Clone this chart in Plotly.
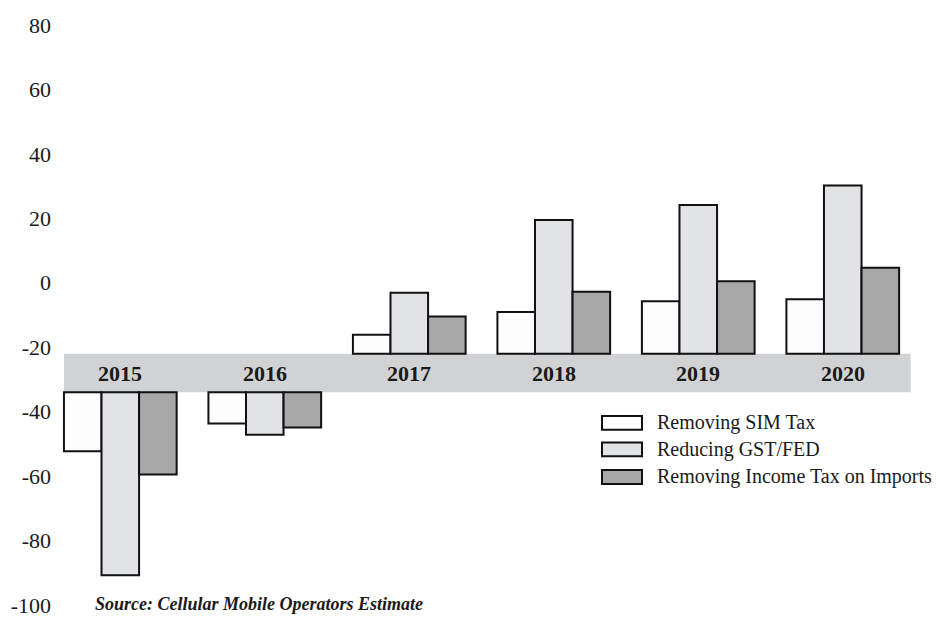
import plotly.graph_objects as go

# ---- data ----
years = ["2015", "2016", "2017", "2018", "2019", "2020"]
sim_tax = [-52.3, -43.7, -16.1, -9.1, -5.7, -5.1]
gst_fed = [-90.8, -47.2, -3.1, 19.5, 24.1, 30.2]
income_tax = [-59.5, -44.9, -10.5, -2.8, 0.5, 4.7]
series_names = ["Removing SIM Tax", "Reducing GST/FED", "Removing Income Tax on Imports"]
series_colors = ["#fdfdfd", "#e2e3e5", "#a8a8a9"]
y_ticks = [80, 60, 40, 20, 0, -20, -40, -60, -80, -100]
y_tick_text = ["80", "60", "40", "20", "0", "-20", "-40", "-60", "-80", "-100"]
band_top, band_bottom = -22.0, -34.0

FONT = "Liberation Serif"
W, H = 951, 629
ML, MR, MT, MB = 56, 11, 25, 15
PW, PH = W - ML - MR, H - MT - MB


def px(x):
    return (x - ML) / PW


def py(y):
    return 1 - (y - MT) / PH


fig = go.Figure()
for name, vals, col in zip(series_names, [sim_tax, gst_fed, income_tax], series_colors):
    bases = [band_bottom if v < band_bottom else band_top for v in vals]
    lengths = [v - b for v, b in zip(vals, bases)]
    fig.add_trace(go.Bar(
        x=years, y=lengths, base=bases, name=name,
        marker=dict(color=col, line=dict(color="#111111", width=2)),
        showlegend=False, hoverinfo="skip",
    ))

# grey band with year labels
fig.add_shape(type="rect", xref="x", yref="y", x0=-0.39, x1=5.47,
              y0=band_bottom, y1=band_top, fillcolor="#d1d2d4",
              line=dict(width=0), layer="below")
for i, yr in enumerate(years):
    fig.add_annotation(x=i, y=(band_top + band_bottom) / 2, xref="x", yref="y",
                       text="<b>%s</b>" % yr, showarrow=False,
                       font=dict(family=FONT, size=22, color="#1a1a1a"))

# manual legend
leg_rows = [429, 456, 484]
for name, col, ry in zip(series_names, series_colors, leg_rows):
    fig.add_shape(type="rect", xref="paper", yref="paper",
                  x0=px(602), x1=px(642), y0=py(ry + 7), y1=py(ry - 7),
                  fillcolor=col, line=dict(color="#111111", width=2))
    fig.add_annotation(xref="paper", yref="paper", x=px(655), y=py(ry),
                       xanchor="left", yanchor="middle", text=name, showarrow=False,
                       font=dict(family=FONT, size=20, color="#1a1a1a"))

# source note
fig.add_annotation(xref="paper", yref="paper", x=px(93), y=py(613),
                   xanchor="left", yanchor="middle",
                   text="<b><i>Source: Cellular Mobile Operators Estimate</i></b>",
                   showarrow=False, font=dict(family=FONT, size=18, color="#1a1a1a"))

fig.update_layout(
    width=W, height=H,
    margin=dict(l=ML, r=MR, t=MT, b=MB),
    paper_bgcolor="white", plot_bgcolor="white",
    barmode="group", bargap=0.22, bargroupgap=0,
    xaxis=dict(type="category", range=[-0.445, 5.673], showticklabels=False,
               showgrid=False, zeroline=False, showline=False, ticks=""),
    yaxis=dict(range=[-100, 80], tickvals=y_ticks, ticktext=y_tick_text,
               showgrid=False, zeroline=False, showline=False, ticks="",
               ticklabelstandoff=4,
               tickfont=dict(family=FONT, size=22, color="#1a1a1a")),
    font=dict(family=FONT),
)

fig.write_html("out.html")
